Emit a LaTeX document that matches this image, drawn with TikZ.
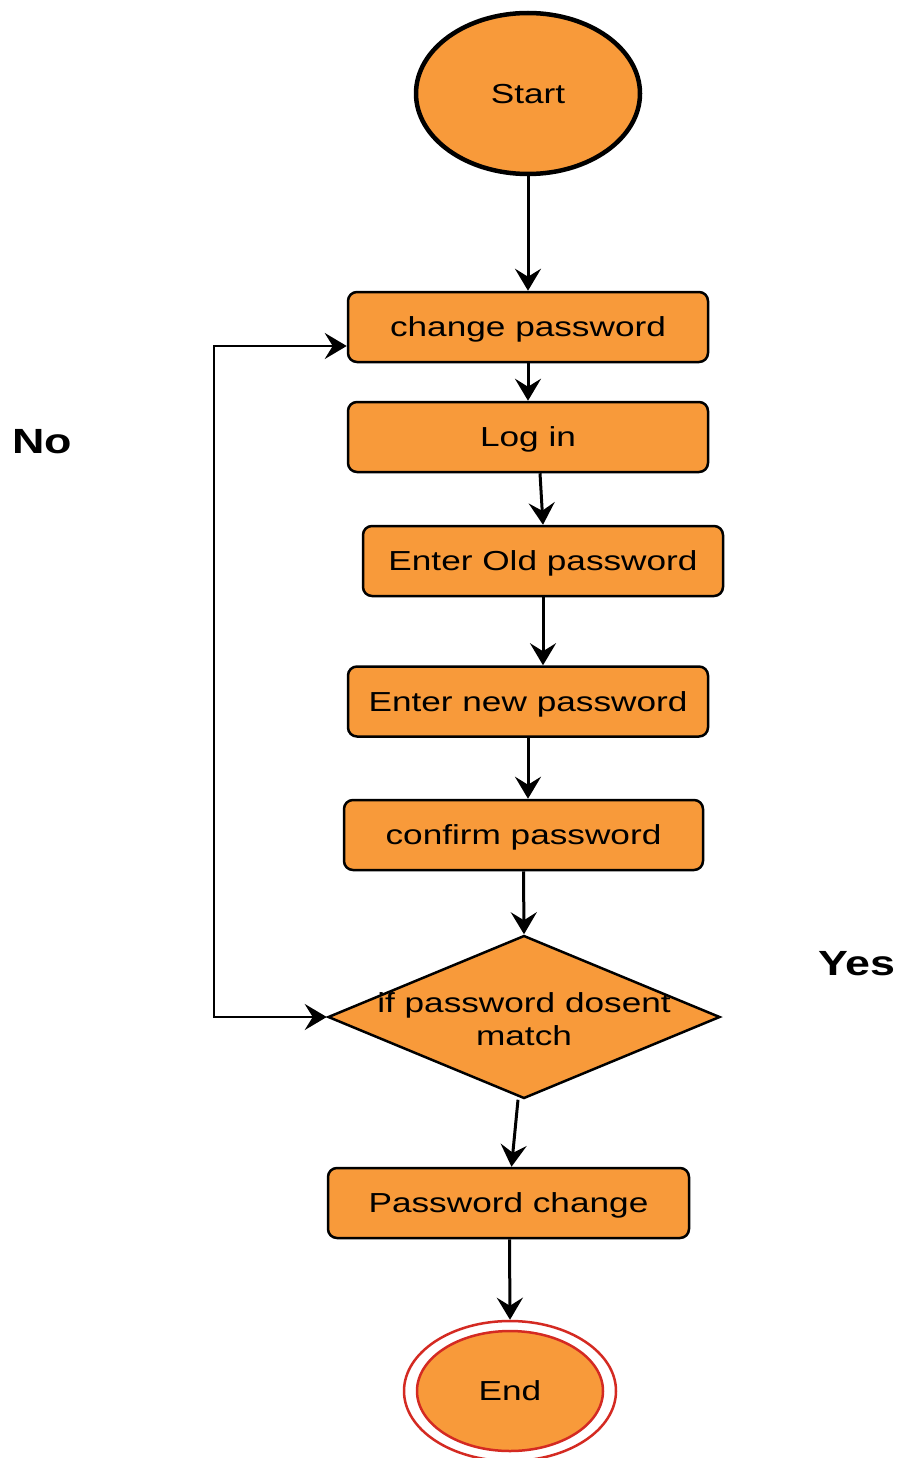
\documentclass[tikz,border=0pt]{standalone}
\usepackage{fontspec}
\setmainfont{Liberation Sans}[FakeStretch=1.28]
\usetikzlibrary{shapes.geometric,arrows.meta}
\definecolor{boxorange}{HTML}{F89A3A}
\definecolor{endred}{HTML}{D42A22}
\tikzset{tip/.tip={Stealth[length=22pt,width=26pt,inset=8pt]}}
\begin{document}
\begin{tikzpicture}[x=1pt,y=-1pt,
  every node/.style={font=\fontsize{27.5}{33}\selectfont},
  stepbox/.style={draw=black, line width=2.5pt, fill=boxorange, rounded corners=9pt,
    minimum width=360pt, minimum height=70pt, inner sep=0pt,
    text height=19.7pt, text depth=0pt},
  flow/.style={line width=3pt, -tip},
  sidelabel/.style={font=\fontsize{35}{40}\selectfont\bfseries, text height=25pt, text depth=0pt, inner sep=0pt}
]
\fill[white] (0,0) rectangle (903,1458);
\useasboundingbox (0,0) rectangle (903,1458);

% terminals
\node[ellipse, draw=black, line width=4.5pt, fill=boxorange, minimum width=224pt,
      minimum height=161pt, inner sep=0pt, text height=19.7pt, text depth=0pt]
      (start) at (528,93.5) {Start};

% process steps
\node[stepbox] (cp)      at (528,327)   {change password};
\node[stepbox] (login)   at (528,437)   {Log in};
\node[stepbox] (old)     at (543,561)   {Enter Old password};
\node[stepbox] (new)     at (528,701.5) {Enter new password};
\node[stepbox, minimum width=359pt] (confirm) at (523.5,835) {confirm password};
\node[stepbox, minimum width=361pt] (pwchange) at (508.5,1203) {Password change};

% decision
\node[diamond, draw=black, line width=2.5pt, fill=boxorange, minimum width=392pt,
      minimum height=163pt, inner sep=0pt] (dia) at (524,1017) {};
\node[align=center, inner sep=0pt] (question) at ([yshift=-2pt]dia.center)
      {if password dosent\\match};

% end terminal with double red ring
\node[ellipse, draw=endred, line width=2.5pt, fill=white, minimum width=212pt,
      minimum height=140pt, inner sep=0pt] (endring) at (510,1391) {};
\node[ellipse, draw=endred, line width=2.5pt, fill=boxorange, minimum width=186pt,
      minimum height=120pt, inner sep=0pt, text height=19.7pt, text depth=0pt]
      (endnode) at (510,1391) {End};

% branch labels
\node[sidelabel] (nolabel)  at (42,440.5) {No};
\node[sidelabel] (yeslabel) at (857,962.5) {Yes};

% main flow
\draw[flow] (start.south) -- (cp.north);
\draw[flow] (cp.south) -- (login.north);
\draw[flow] ([xshift=12pt]login.south) -- (old.north);
\draw[flow] (old.south) -- (old.south |- new.north);
\draw[flow] (new.south) -- (new.south |- confirm.north);
\draw[flow] (confirm.south) -- (dia.north);
\draw[flow] ([xshift=-6pt]dia.south) -- ([xshift=3pt]pwchange.north);
\draw[flow] ([xshift=1pt]pwchange.south) -- (endring.north);

% retry loop back to the first step
\coordinate (loopin) at ([yshift=-19pt]cp.west);
\coordinate (loopcorner) at (214,1017);
\draw[line width=2.5pt, tip-tip] (dia.west) -- (loopcorner) |- (loopin);
\end{tikzpicture}
\end{document}
